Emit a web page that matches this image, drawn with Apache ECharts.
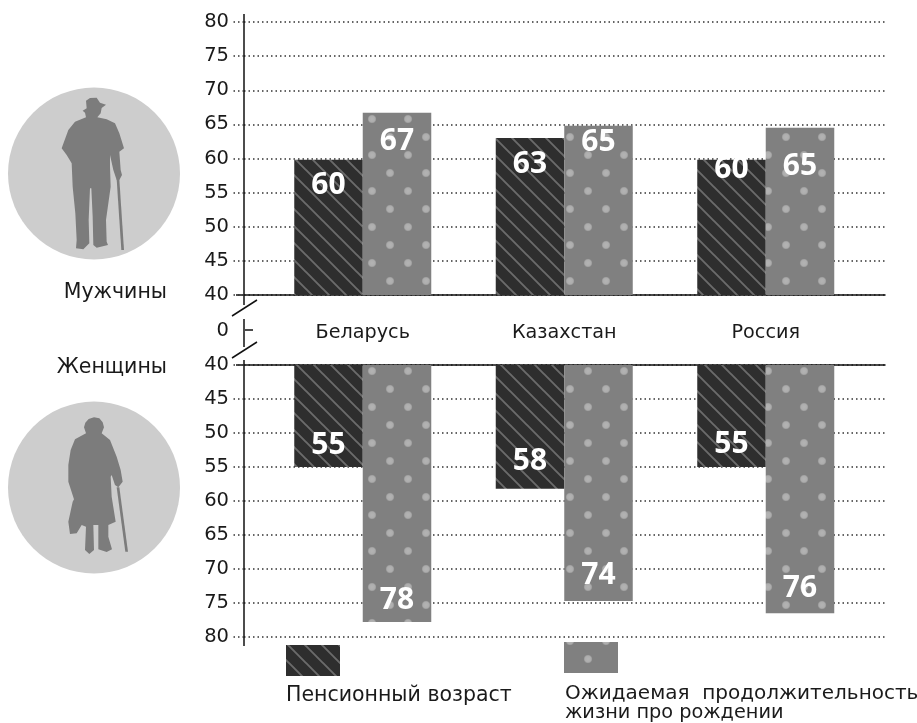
<!DOCTYPE html>
<html>
<head>
<meta charset="utf-8">
<style>html,body{margin:0;padding:0;background:#fff}#chart{width:917px;height:723px}</style>
<script src="https://cdn.jsdelivr.net/npm/echarts@6/dist/echarts.min.js"></script>
</head>
<body>
<div id="chart"></div>
<script>
var categories = ['Беларусь', 'Казахстан', 'Россия'];
var tickValues = [40, 80];
var seriesNames = ['Пенсионный возраст', 'Ожидаемая  продолжительность\nжизни про рождении'];

// высота столбцов
var menPension = [59.8, 63, 59.8];
var menLife = [66.7, 64.8, 64.5];
var womenPension = [55, 58.2, 55];
var womenLife = [77.8, 74.7, 76.5];

// подписи на столбцах
var menPensionLabels = ['60', '63', '60'];
var menLifeLabels = ['67', '65', '65'];
var womenPensionLabels = ['55', '58', '55'];
var womenLifeLabels = ['78', '74', '76'];

// сдвиг центра подписи от края столбца
var menPensionShift = [26, 26, 10];
var menLifeShift = [29, 17, 39];
var womenPensionShift = [22, 27, 23];
var womenLifeShift = [22, 26, 25];

function hatch() {
    var c = document.createElement('canvas');
    c.width = 17; c.height = 17;
    var g = c.getContext('2d');
    g.fillStyle = '#2e2e2e';
    g.fillRect(0, 0, 17, 17);
    g.strokeStyle = '#6b6b6b';
    g.lineWidth = 1.9;
    g.beginPath();
    g.moveTo(-2, -2); g.lineTo(19, 19);
    g.moveTo(-2, 15); g.lineTo(2, 19);
    g.moveTo(15, -2); g.lineTo(19, 2);
    g.stroke();
    return c;
}

function dots() {
    var c = document.createElement('canvas');
    c.width = 36; c.height = 36;
    var g = c.getContext('2d');
    g.fillStyle = '#808080';
    g.fillRect(0, 0, 36, 36);
    [[12, 11], [30, 29]].forEach(function (p) {
        var r = g.createRadialGradient(p[0], p[1], 1, p[0], p[1], 4.6);
        r.addColorStop(0, '#b2b2b2');
        r.addColorStop(0.6, '#acacac');
        r.addColorStop(1, '#808080');
        g.fillStyle = r;
        g.beginPath();
        g.arc(p[0], p[1], 4.6, 0, Math.PI * 2);
        g.fill();
    });
    return c;
}

var darkFill = { image: hatch(), repeat: 'repeat' };
var lightFill = { image: dots(), repeat: 'repeat' };

var font = '"DejaVu Sans"';
var textColor = '#1a1a1a';
var dotted = { color: '#333', type: [1.5, 3], width: 1.5 };

function backY(gridIndex, inverse) {
    return {
        type: 'value', gridIndex: gridIndex, min: tickValues[0], max: tickValues[1], interval: 5, inverse: inverse,
        axisLine: { show: true, onZero: false, lineStyle: { color: '#111', width: 1.5 } },
        axisTick: { show: true, length: 11, lineStyle: dotted },
        axisLabel: { margin: 15, color: textColor, fontSize: 19.5, fontFamily: font, padding: [2, 0, 0, 0] },
        splitLine: { show: true, lineStyle: dotted }
    };
}

function barY(gridIndex, inverse) {
    return { type: 'value', gridIndex: gridIndex, min: tickValues[0], max: tickValues[1], inverse: inverse, show: false };
}

function barSeries(name, axis, values, labels, shift, fill, fromBottom) {
    return {
        name: name, type: 'bar', xAxisIndex: axis, yAxisIndex: axis,
        barWidth: 68.5, barGap: 0, silent: true,
        itemStyle: { color: fill },
        data: values.map(function (v, i) {
            return {
                value: v,
                label: {
                    show: true,
                    formatter: labels[i],
                    position: fromBottom ? 'insideBottom' : 'insideTop',
                    distance: 0,
                    offset: [0, fromBottom ? 16 - shift[i] : shift[i] - 16],
                    color: '#fff', fontSize: 30, fontWeight: 'bold', fontFamily: '"Open Sans"', lineHeight: 32
                }
            };
        })
    };
}

function text(x, y, str, size, align) {
    return {
        type: 'text', x: x, y: y,
        style: { text: str, fill: textColor, font: size + 'px ' + font, textAlign: align || 'left', textVerticalAlign: 'middle' }
    };
}

function line(x1, y1, x2, y2, width) {
    return { type: 'line', shape: { x1: x1, y1: y1, x2: x2, y2: y2 }, style: { stroke: '#111', lineWidth: width || 1.5 } };
}

function figure(y, body, cane) {
    return [body, cane].map(function (points) {
        return { type: 'polygon', x: 0, y: y, scaleX: 1 / 3, scaleY: 1 / 3, shape: { points: points }, style: { fill: '#7c7c7c' } };
    });
}

var manBody = [[258,62],[270,54],[290,53],[300,68],[318,74],[305,84],[302,100],[292,112],[320,118],[345,130],[358,160],[372,205],[358,215],[362,270],[366,285],[358,300],[350,300],[340,270],[330,225],[330,260],[332,320],[318,420],[320,485],[324,495],[290,503],[280,495],[278,410],[274,325],[270,325],[266,420],[268,490],[250,508],[228,505],[230,480],[226,400],[218,320],[215,250],[200,225],[185,205],[205,150],[225,125],[258,112],[255,98],[248,92],[260,85]];
var manCane = [[350,298],[358,298],[372,510],[364,510]];
var womanBody = [[258,130],[252,112],[256,98],[266,87],[282,82],[298,85],[308,97],[312,112],[305,130],[330,150],[350,200],[362,240],[368,275],[355,292],[345,285],[335,255],[332,260],[335,320],[347,395],[325,405],[325,440],[336,478],[320,486],[295,478],[295,405],[280,405],[282,480],[268,492],[255,480],[258,410],[245,405],[230,430],[210,432],[205,395],[218,335],[222,328],[205,275],[205,225],[212,180],[225,148]];
var womanCane = [[350,292],[358,292],[384,485],[376,485]];

var graphics = [
    { type: 'circle', shape: { cx: 94, cy: 173.5, r: 86 }, style: { fill: '#cdcdcd' } },
    { type: 'circle', shape: { cx: 94, cy: 487.5, r: 86 }, style: { fill: '#cdcdcd' } }
]
    .concat(figure(80, manBody, manCane))
    .concat(figure(390, womanBody, womanCane))
    .concat([
        text(167, 293, 'Мужчины', 20.5, 'right'),
        text(167, 368, 'Женщины', 20.5, 'right'),
        text(229, 331, '0', 19.5, 'right'),
        // разрыв оси
        line(244, 14, 244, 22),
        line(244, 637, 244, 646),
        line(244, 295, 244, 305),
        line(244, 319, 244, 347),
        line(244, 360, 244, 365),
        line(232, 316, 257, 300),
        line(232, 358, 257, 342),
        line(245, 330, 253, 330),
        line(236, 295, 244, 295),
        line(236, 365, 244, 365),
        // легенда
        { type: 'rect', shape: { x: 286, y: 645, width: 54, height: 31 }, style: { fill: darkFill } },
        { type: 'rect', shape: { x: 564, y: 642, width: 54, height: 31 }, style: { fill: lightFill } },
        text(286, 696, seriesNames[0], 20.5),
        text(565, 694, seriesNames[1].split('\n')[0], 20),
        text(565, 713, seriesNames[1].split('\n')[1], 19.3)
    ]);

var myChart = echarts.init(document.getElementById('chart'), null, { renderer: 'canvas' });
myChart.setOption({
    animation: false,
    backgroundColor: '#fff',
    grid: [
        { left: 244, width: 641, top: 22, height: 273 },
        { left: 244, width: 641, top: 365, height: 272 },
        { left: 262, width: 604.5, top: 22, height: 273 },
        { left: 262, width: 604.5, top: 365, height: 272 }
    ],
    xAxis: [
        { type: 'category', gridIndex: 0, data: [''], axisLine: { lineStyle: { color: '#111', width: 1.5 } }, axisTick: { show: false }, axisLabel: { show: false } },
        { type: 'category', gridIndex: 1, position: 'top', data: [''], axisLine: { lineStyle: { color: '#111', width: 1.5 } }, axisTick: { show: false }, axisLabel: { show: false } },
        {
            type: 'category', gridIndex: 2, data: categories,
            axisLine: { show: false }, axisTick: { show: false },
            axisLabel: { margin: 29, color: textColor, fontSize: 19.2, fontFamily: font }
        },
        { type: 'category', gridIndex: 3, position: 'top', data: categories, show: false }
    ],
    yAxis: [backY(0, false), backY(1, true), barY(2, false), barY(3, true)],
    series: [
        barSeries(seriesNames[0], 2, menPension, menPensionLabels, menPensionShift, darkFill, false),
        barSeries(seriesNames[1], 2, menLife, menLifeLabels, menLifeShift, lightFill, false),
        barSeries(seriesNames[0], 3, womenPension, womenPensionLabels, womenPensionShift, darkFill, true),
        barSeries(seriesNames[1], 3, womenLife, womenLifeLabels, womenLifeShift, lightFill, true)
    ],
    graphic: { elements: graphics }
});
</script>
</body>
</html>
